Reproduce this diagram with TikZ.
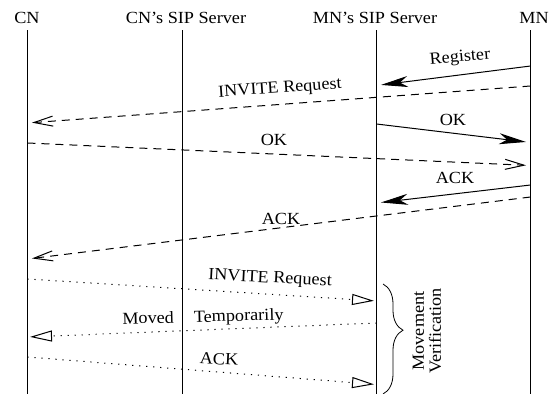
\documentclass[tikz,border=0pt]{standalone}
\usepackage{fontspec}
\setmainfont[FakeStretch=1.07]{Liberation Serif}
\usetikzlibrary{arrows.meta,decorations.pathreplacing}
\begin{document}
\begin{tikzpicture}[x=1pt,y=-1pt,line width=1pt,
  every node/.style={inner sep=0pt,font=\fontsize{17}{19}\selectfont},
  head/.style={anchor=base},
  lifeline/.style={line width=1.1pt},
  msgsolid/.style={-{Stealth[length=27pt,width=11pt,inset=8pt]},shorten >=4.5pt},
  msgdash/.style={dash pattern=on 8pt off 6pt,-{Straight Barb[length=19pt,width=10pt,line width=1pt]},shorten >=4.5pt},
  msgdot/.style={dash pattern=on 1.2pt off 5.8pt,-{Triangle[open,length=22pt,width=11pt,line width=1pt]},shorten >=2.5pt},
  lbl/.style={anchor=center}]
\useasboundingbox (0,0) rectangle (555,394);
% headers
\node[head] (cn)  at (27,23.5) {CN};
\node[head] (cns) at (186,23.5) {CN’s SIP Server};
\node[head] (mns) at (375,23.5) {MN’s SIP Server};
\node[head] (mn)  at (534,23.5) {MN};
% lifeline ends
\coordinate (cnT)  at (27.5,30);  \coordinate (cnB)  at (27.5,394);
\coordinate (cnsT) at (182.5,30); \coordinate (cnsB) at (182.5,394);
\coordinate (mnsT) at (376.5,30); \coordinate (mnsB) at (376.5,394);
\coordinate (mnT)  at (530.5,30); \coordinate (mnB)  at (530.5,394);
\draw[lifeline] (cnT) -- (cnB);
\draw[lifeline] (cnsT) -- (cnsB);
\draw[lifeline] (mnsT) -- (mnsB);
\draw[lifeline] (mnT) -- (mnB);
% message end points
\coordinate (r1) at (530.5,66);  \coordinate (r2) at (376.5,85.5);
\coordinate (i1) at (530.5,86);  \coordinate (i2) at (27.5,123);
\coordinate (o1) at (376.5,124); \coordinate (o2) at (530.5,142.5);
\coordinate (p1) at (27.5,143);  \coordinate (p2) at (530.5,165.5);
\coordinate (a1) at (530.5,185); \coordinate (a2) at (376.5,203);
\coordinate (b1) at (530.5,197); \coordinate (b2) at (27.5,259);
\coordinate (j1) at (27.5,279);  \coordinate (j2) at (376.5,301);
\coordinate (m1) at (376.5,323); \coordinate (m2) at (27.5,337);
\coordinate (k1) at (27.5,357);  \coordinate (k2) at (376.5,384.5);
% messages
\draw[msgsolid] (r1) -- (r2);
\draw[msgdash]  (i1) -- (i2);
\draw[msgsolid] (o1) -- (o2);
\draw[msgdash]  (p1) -- (p2);
\draw[msgsolid] (a1) -- (a2);
\draw[msgdash]  (b1) -- (b2);
\draw[msgdot]   (j1) -- (j2);
\draw[msgdot]   (m1) -- (m2);
\draw[msgdot]   (k1) -- (k2);
% labels
\node[lbl,rotate=5]    (lr) at (460,58)  {Register};
\node[lbl,rotate=4]    (li) at (280,89)  {INVITE Request};
\node[lbl]             (lo) at (453,120) {OK};
\node[lbl]             (lp) at (274,140) {OK};
\node[lbl]             (la) at (455,178) {ACK};
\node[lbl]             (lb) at (281,218.5) {ACK};
\node[lbl,rotate=-3]   (lj) at (270,279) {INVITE Request};
\node[lbl,rotate=1.5]  (lm) at (203,318) {Moved\hspace{20pt}Temporarily};
\node[lbl,rotate=-3]   (lk) at (219,359) {ACK};
% brace
\coordinate (bt) at (383,284); \coordinate (bb) at (383,394);
\draw[line width=0.8pt,decorate,decoration={brace,amplitude=20pt,aspect=0.42}] (bt) -- (bb);
\node[rotate=90,align=center,font=\fontsize{17}{17}\selectfont] (mv) at (427,331) {Movement\\Verification};
\end{tikzpicture}
\end{document}
